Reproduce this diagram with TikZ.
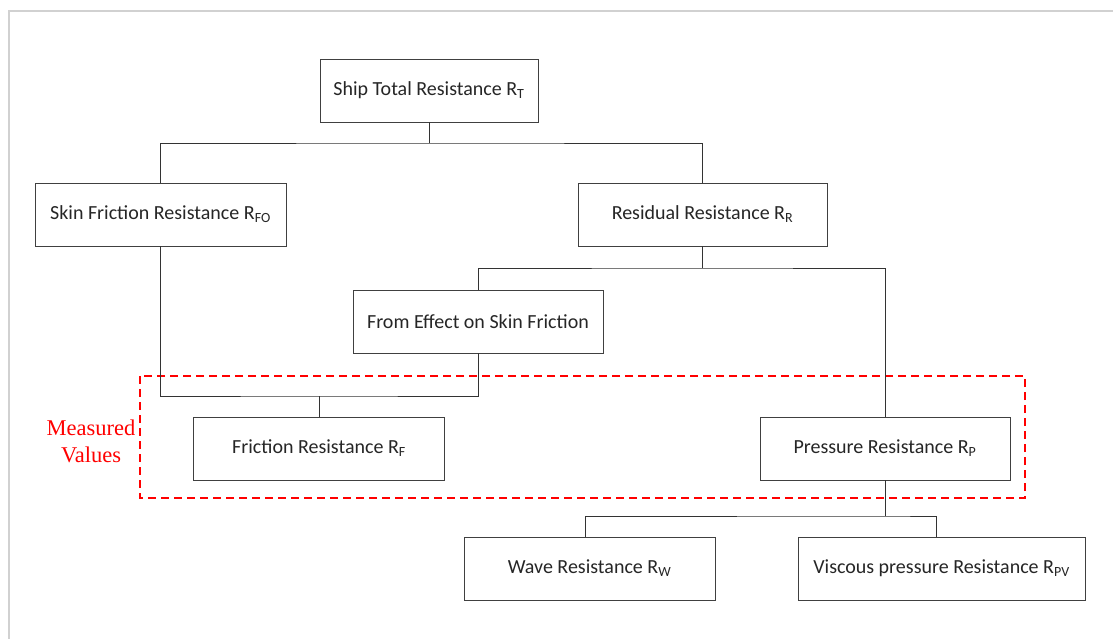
\documentclass[tikz,border=0pt]{standalone}
\usepackage{fontspec}
\setmainfont{Carlito}
\newfontfamily\notefont{Liberation Serif}

\begin{document}
\begin{tikzpicture}[x=1pt,y=-1pt]

\tikzset{
  res box/.style={
    draw=black!75,
    line width=0.9pt,
    fill=white,
    minimum width=251pt,
    minimum height=63pt,
    inner sep=2pt,
    text=black!85,
    font=\fontsize{20}{24}\selectfont,
  },
  link/.style={
    draw=black!80,
    line width=0.9pt,
  }
}

% page frame
\useasboundingbox (0,0) rectangle (1113,639);
\draw[black!18,line width=1.5pt] (9,639) -- (9,11) -- (1113,11);

% measured area
\draw[red,line width=1.6pt,dash pattern=on 8pt off 5pt] (140,376) rectangle (1025,498);
\node[text=red,align=center,font=\notefont\fontsize{22.5}{27}\selectfont] (meas) at (91,441) {Measured\\Values};

% Level 0
\node[res box,minimum width=218pt] (total) at (429,90.5) {Ship Total Resistance R\textsubscript{T}};

% Level 1
\node[res box] (skin) at (160.5,214.5) {Skin Friction Resistance R\textsubscript{FO}};
\node[res box,minimum width=249pt] (resid) at (702.5,214.5) {Residual Resistance R\textsubscript{R}};

% Level 2
\node[res box,minimum width=250pt] (effect) at (478,321.5) {From Effect on Skin Friction};

% Level 3
\node[res box] (fric) at (319,448.5) {Friction Resistance R\textsubscript{F}};
\node[res box,minimum width=250pt] (press) at (885,448.5) {Pressure Resistance R\textsubscript{P}};

% Level 4
\node[res box] (wave) at (589.5,568.5) {Wave Resistance R\textsubscript{W}};
\node[res box,minimum width=287pt] (visc) at (941.5,568.5) {Viscous pressure Resistance R\textsubscript{PV}};

% Junctions
\coordinate (jT) at (429,143);
\coordinate (jR) at (702.5,268);
\coordinate (jF) at (319,396);
\coordinate (jP) at (885,516);

% Edges
\draw[link] (total) -- (jT);
\draw[link] (skin) |- (jT) -| (resid);

\draw[link] (resid) -- (jR);
\draw[link] (effect) |- (jR) -| (press);

\draw[link] (skin) |- (jF) -| (effect);
\draw[link] (jF) -- (fric);

\draw[link] (press) -- (jP);
\draw[link] ([xshift=-4.5pt]wave.north) |- (jP) -| ([xshift=-5.5pt]visc.north);

\end{tikzpicture}
\end{document}
